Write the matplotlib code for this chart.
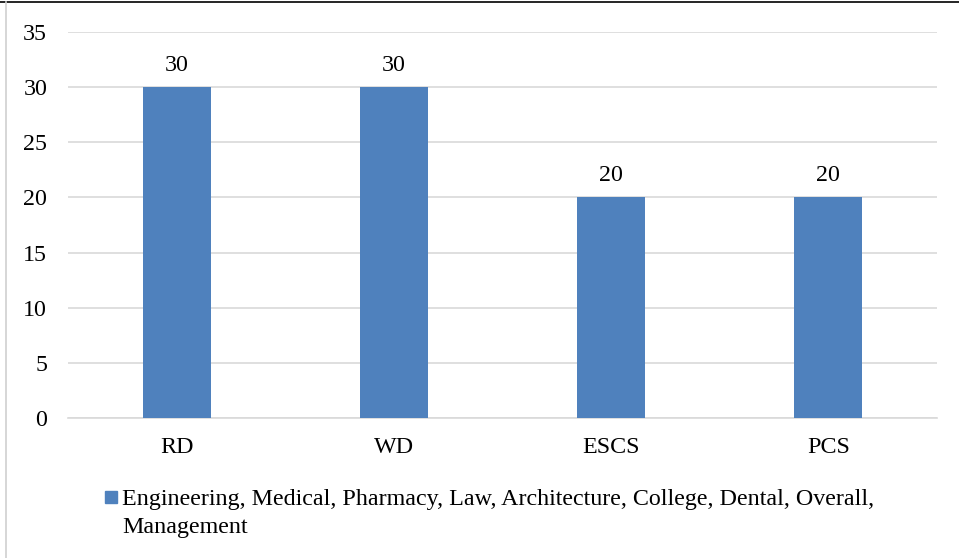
import matplotlib
matplotlib.use("Agg")
import matplotlib.pyplot as plt
from matplotlib.patches import Rectangle
from matplotlib.lines import Line2D

categories = ["RD", "WD", "ESCS", "PCS"]
values = [30, 30, 20, 20]
series_lines = ["Engineering, Medical, Pharmacy, Law, Architecture, College, Dental, Overall,",
                "Management"]
yticks = [0, 5, 10, 15, 20, 25, 30, 35]

plt.rcParams['font.family'] = ['Liberation Serif', 'DejaVu Serif']
FS = 17.3
W, H = 959, 558
fig = plt.figure(figsize=(W/100, H/100), dpi=100)

ax = fig.add_axes([68/W, 1-418/H, (937-68)/W, (418-32)/H])
color = "#4F81BD"
x = range(len(categories))
bars = ax.bar(x, values, width=0.313, color=color, zorder=3)
ax.set_xlim(-0.5, len(categories)-0.5)
ax.set_ylim(0, 35)
ax.set_yticks(yticks)
ax.set_yticklabels([str(t) for t in yticks], fontsize=FS)
ax.set_xticks(list(x))
ax.set_xticklabels(categories, fontsize=FS)
ax.tick_params(axis='both', length=0)
ax.tick_params(axis='y', pad=15)
ax.tick_params(axis='x', pad=14)
ax.grid(axis='y', color='#D9D9D9', linewidth=1.2, zorder=0)
for s in ['top', 'right', 'left']:
    ax.spines[s].set_visible(False)
ax.spines['bottom'].set_color('#D9D9D9')
ax.spines['bottom'].set_linewidth(1.2)
for b, v in zip(bars, values):
    ax.annotate(str(v), (b.get_x()+b.get_width()/2, v), xytext=(0, 8),
                textcoords='offset points', ha='center', va='bottom', fontsize=FS)

# legend
fig.patches.append(Rectangle((105/W, 1-503/H), 12/W, 12/H, transform=fig.transFigure,
                             color=color, figure=fig))
for i, line in enumerate(series_lines):
    fig.text(122/W, 1-(497+28*i)/H, line, fontsize=FS, va='center_baseline', ha='left',
             transform=fig.transFigure)

# border lines
fig.add_artist(Line2D([0, 1], [1-2/H, 1-2/H], color='black', linewidth=1.2, transform=fig.transFigure))
fig.add_artist(Line2D([6/W, 6/W], [0, 1-2/H], color='#D0D0D0', linewidth=1.2, transform=fig.transFigure))

fig.savefig("out.png", dpi=100)
